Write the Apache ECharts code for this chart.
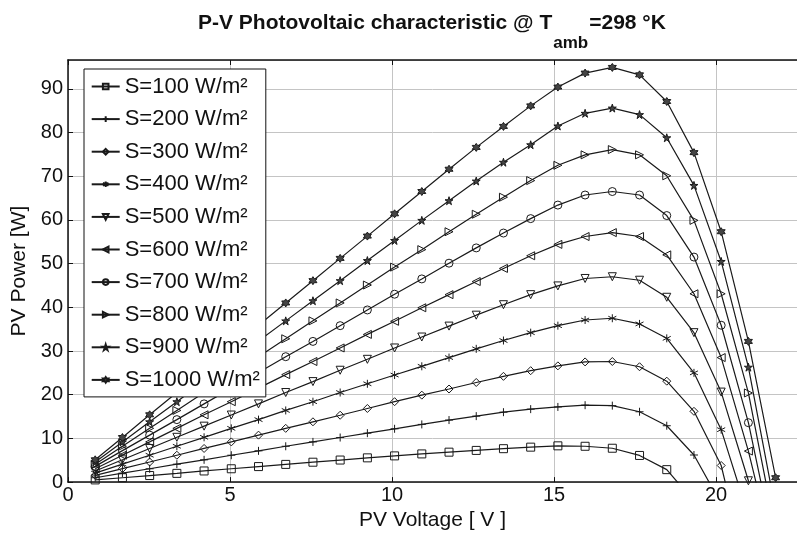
<!DOCTYPE html>
<html>
<head>
<meta charset="utf-8">
<script src="https://cdn.jsdelivr.net/npm/echarts@6/dist/echarts.min.js"></script>
<style>html,body{margin:0;padding:0;background:#fff;}#c{width:797px;height:536px;}</style>
</head>
<body>
<div id="c"></div>
<script>
const voltage = [0.84,1.68,2.52,3.36,4.2,5.04,5.88,6.72,7.56,8.4,9.24,10.08,10.92,11.76,12.6,13.44,14.28,15.12,15.96,16.8,17.64,18.48,19.32,20.16,21.0,21.84];
const seriesNames = ['S=100 W/m²','S=200 W/m²','S=300 W/m²','S=400 W/m²','S=500 W/m²','S=600 W/m²','S=700 W/m²','S=800 W/m²','S=900 W/m²','S=1000 W/m²'];
const p100 = [0.5,1.0,1.5,2.0,2.55,3.05,3.55,4.05,4.55,5.05,5.55,6.0,6.45,6.85,7.25,7.65,8.0,8.3,8.2,7.75,6.1,2.85,-4.4];
const p200 = [1.0,2.05,3.05,4.1,5.1,6.15,7.15,8.2,9.2,10.2,11.2,12.2,13.2,14.2,15.1,16.0,16.7,17.2,17.6,17.5,16.1,12.9,6.2,-5.0];
const p300 = [1.55,3.1,4.6,6.15,7.7,9.2,10.75,12.3,13.8,15.3,16.85,18.4,19.9,21.3,22.8,24.2,25.5,26.6,27.5,27.6,26.4,23.1,16.2,3.8,-22];
const p400 = [2.05,4.1,6.15,8.2,10.25,12.3,14.3,16.4,18.4,20.5,22.5,24.5,26.5,28.5,30.5,32.4,34.2,35.8,37.1,37.5,36.2,32.9,25.0,12.0,-7.8];
const p500 = [2.55,5.1,7.7,10.25,12.8,15.35,17.9,20.5,23.0,25.6,28.1,30.7,33.2,35.7,38.2,40.6,42.9,44.9,46.6,47.0,46.2,42.3,34.2,20.6,0.3,-25];
const p600 = [3.05,6.15,9.2,12.3,15.4,18.4,21.5,24.6,27.6,30.7,33.8,36.8,39.9,42.9,45.9,48.9,51.8,54.4,56.2,57.1,56.2,52.0,43.1,28.5,7.1,-18.5];
const p700 = [3.6,7.2,10.75,14.3,17.9,21.5,25.1,28.7,32.2,35.8,39.4,43.0,46.5,50.1,53.6,57.0,60.3,63.4,65.7,66.5,65.7,61.0,51.5,35.9,13.6,-16.0];
const p800 = [4.1,8.2,12.3,16.4,20.5,24.6,28.7,32.8,36.9,41.0,45.1,49.2,53.2,57.3,61.3,65.2,69.0,72.5,74.9,76.1,74.9,70.1,59.9,43.1,20.4,-11.4];
const p900 = [4.6,9.2,13.8,18.4,23.1,27.7,32.3,36.9,41.5,46.1,50.7,55.3,59.9,64.4,68.9,73.2,77.2,81.5,84.4,85.6,84.1,78.8,67.9,50.5,26.3,-6.5];
const p1000 = [5.1,10.2,15.4,20.5,25.6,30.7,35.9,41.0,46.1,51.2,56.3,61.4,66.5,71.6,76.6,81.4,86.1,90.4,93.6,94.9,93.2,87.1,75.4,57.3,32.2,1.0];
const xTicks = [0,5,10,15,20];
const yTicks = [0,10,20,30,40,50,60,70,80,90];
const titleParts = ['P-V Photovoltaic characteristic @ T', 'amb', '=298 °K'];

const powers = [p100,p200,p300,p400,p500,p600,p700,p800,p900,p1000];
const markers = [
  {symbol:'rect', fill:'rgba(0,0,0,0)'},
  {symbol:'path://M5,0L5,10M0,5L10,5', fill:'rgba(0,0,0,0)'},
  {symbol:'diamond', fill:'rgba(0,0,0,0)'},
  {symbol:'path://M5,0L5,10M0.7,2.5L9.3,7.5M0.7,7.5L9.3,2.5', fill:'#222'},
  {symbol:'path://M0,0L10,0L5,9Z', fill:'rgba(0,0,0,0)'},
  {symbol:'path://M9,0L9,10L0,5Z', fill:'rgba(0,0,0,0)'},
  {symbol:'circle', fill:'rgba(0,0,0,0)'},
  {symbol:'path://M0,0L0,10L9,5Z', fill:'rgba(0,0,0,0)'},
  {symbol:'path://M5,0L6.12,3.46L9.76,3.45L6.81,5.59L7.94,9.05L5,6.9L2.06,9.05L3.19,5.59L0.24,3.45L3.88,3.46Z', fill:'#444'},
  {symbol:'path://M5,0L6.44,2.5L9.33,2.5L7.89,5L9.33,7.5L6.44,7.5L5,10L3.56,7.5L0.67,7.5L2.11,5L0.67,2.5L3.56,2.5Z', fill:'#444'}
];

const FONT = '"Liberation Sans", Arial, Helvetica, sans-serif';
const series = powers.map((p, i) => ({
  name: seriesNames[i],
  type: 'line',
  data: p.map((v, k) => [voltage[k], v]),
  clip: true,
  symbol: markers[i].symbol,
  symbolSize: 8,
  showAllSymbol: true,
  lineStyle: {color: '#1a1a1a', width: 1.2},
  itemStyle: {color: markers[i].fill, borderColor: '#1a1a1a', borderWidth: 1},
  emphasis: {disabled: true},
  animation: false,
  z: 3
}));

// measure title parts to chain them (main text, subscript, rest)
const mctx = document.createElement('canvas').getContext('2d');
function tw(str, size) { mctx.font = 'bold ' + size + 'px "Liberation Sans", Arial, sans-serif'; return mctx.measureText(str).width; }
const tLeft = 198;
const w0 = tw(titleParts[0], 21);
const w1 = tw(titleParts[1], 17);
const titleStyle = (size) => ({fontFamily: FONT, fontSize: size, fontWeight: 'bold', color: '#111'});

const chart = echarts.init(document.getElementById('c'), null, {renderer: 'canvas'});
chart.setOption({
  backgroundColor: '#fff',
  animation: false,
  textStyle: {fontFamily: FONT},
  title: [
    {text: titleParts[0], left: tLeft, top: 13, padding: 0, textStyle: titleStyle(21)},
    {text: titleParts[1], left: tLeft + w0 + 1, top: 35, padding: 0, textStyle: titleStyle(17)},
    {text: titleParts[2], left: tLeft + w0 + w1 + 2, top: 13, padding: 0, textStyle: titleStyle(21)}
  ],
  grid: {left: 68, top: 60, right: -3, bottom: 46, containLabel: false},
  legend: {
    orient: 'vertical',
    left: 84,
    top: 69,
    data: seriesNames,
    itemWidth: 28,
    itemHeight: 7,
    itemGap: 10.6,
    padding: [6.5, 6, 6, 6.7],
    borderColor: '#111',
    borderWidth: 1,
    backgroundColor: '#fff',
    selectedMode: false,
    textStyle: {fontFamily: FONT, fontSize: 22, color: '#111', lineHeight: 22},
    z: 10
  },
  xAxis: [{
    type: 'value', min: 0, max: 22.5, interval: 5, position: 'bottom',
    name: 'PV Voltage [ V ]', nameLocation: 'middle', nameGap: 26,
    nameTextStyle: {fontFamily: FONT, fontSize: 21, color: '#111'},
    axisLine: {show: true, lineStyle: {color: '#111', width: 1.5}},
    axisTick: {show: true, inside: true, length: 5, lineStyle: {color: '#111'}},
    axisLabel: {fontFamily: FONT, fontSize: 20, color: '#111', margin: 3, showMaxLabel: false},
    splitLine: {show: true, lineStyle: {color: '#c4c4c4', width: 1}}
  }, {
    type: 'value', min: 0, max: 22.5, interval: 5, position: 'top',
    axisLine: {show: true, lineStyle: {color: '#111', width: 1.5}},
    axisTick: {show: true, inside: true, length: 5, lineStyle: {color: '#111'}},
    axisLabel: {show: false},
    splitLine: {show: false}
  }],
  yAxis: [{
    type: 'value', min: 0, max: 96.6, interval: 10,
    name: 'PV Power [W]', nameLocation: 'middle', nameGap: 37, nameRotate: 90,
    nameTextStyle: {fontFamily: FONT, fontSize: 21, color: '#111'},
    axisLine: {show: true, lineStyle: {color: '#111', width: 1.5}},
    axisTick: {show: true, inside: true, length: 5, lineStyle: {color: '#111'}},
    axisLabel: {fontFamily: FONT, fontSize: 20, color: '#111', margin: 5, showMaxLabel: false},
    splitLine: {show: true, lineStyle: {color: '#c4c4c4', width: 1}}
  }],
  series: series
});
</script>
</body>
</html>
